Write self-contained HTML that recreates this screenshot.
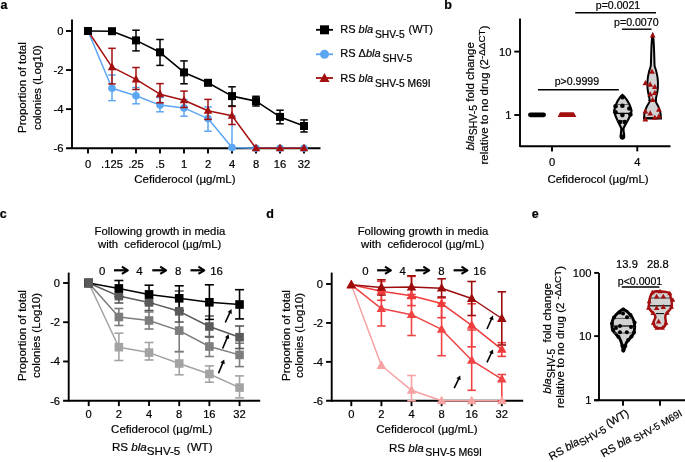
<!DOCTYPE html><html><head><meta charset="utf-8"><style>html,body{margin:0;padding:0;background:#fff;}svg{display:block;will-change:transform;}text{font-family:"Liberation Sans",sans-serif;fill:#000;stroke:#000;stroke-width:0.2px;}</style></head><body>
<svg width="685" height="462" viewBox="0 0 685 462">
<rect width="685" height="462" fill="#fff"/>
<text x="0.60" y="9.40" font-size="12.5" text-anchor="start" font-weight="bold">a</text>
<text x="444.30" y="9.40" font-size="12.5" text-anchor="start" font-weight="bold">b</text>
<text x="-0.20" y="217.50" font-size="12.5" text-anchor="start" font-weight="bold">c</text>
<text x="266.30" y="217.50" font-size="12.5" text-anchor="start" font-weight="bold">d</text>
<text x="531.80" y="217.50" font-size="12.5" text-anchor="start" font-weight="bold">e</text>
<line x1="72.00" y1="19.50" x2="72.00" y2="149.07" stroke="#000" stroke-width="1.9" />
<line x1="66.00" y1="148.20" x2="320.50" y2="148.20" stroke="#000" stroke-width="1.9" />
<line x1="66.00" y1="31.00" x2="72.00" y2="31.00" stroke="#000" stroke-width="1.9" />
<text x="63.50" y="34.90" font-size="11.2" text-anchor="end" >0</text>
<line x1="66.00" y1="70.07" x2="72.00" y2="70.07" stroke="#000" stroke-width="1.9" />
<text x="63.50" y="73.97" font-size="11.2" text-anchor="end" >-2</text>
<line x1="66.00" y1="109.13" x2="72.00" y2="109.13" stroke="#000" stroke-width="1.9" />
<text x="63.50" y="113.03" font-size="11.2" text-anchor="end" >-4</text>
<text x="63.50" y="152.10" font-size="11.2" text-anchor="end" >-6</text>
<line x1="88.00" y1="148.20" x2="88.00" y2="153.60" stroke="#000" stroke-width="1.9" />
<text x="88.00" y="168.00" font-size="11.2" text-anchor="middle" >0</text>
<line x1="112.00" y1="148.20" x2="112.00" y2="153.60" stroke="#000" stroke-width="1.9" />
<text x="112.00" y="168.00" font-size="11.2" text-anchor="middle" >.125</text>
<line x1="136.00" y1="148.20" x2="136.00" y2="153.60" stroke="#000" stroke-width="1.9" />
<text x="136.00" y="168.00" font-size="11.2" text-anchor="middle" >.25</text>
<line x1="160.00" y1="148.20" x2="160.00" y2="153.60" stroke="#000" stroke-width="1.9" />
<text x="160.00" y="168.00" font-size="11.2" text-anchor="middle" >.5</text>
<line x1="184.00" y1="148.20" x2="184.00" y2="153.60" stroke="#000" stroke-width="1.9" />
<text x="184.00" y="168.00" font-size="11.2" text-anchor="middle" >1</text>
<line x1="208.00" y1="148.20" x2="208.00" y2="153.60" stroke="#000" stroke-width="1.9" />
<text x="208.00" y="168.00" font-size="11.2" text-anchor="middle" >2</text>
<line x1="232.00" y1="148.20" x2="232.00" y2="153.60" stroke="#000" stroke-width="1.9" />
<text x="232.00" y="168.00" font-size="11.2" text-anchor="middle" >4</text>
<line x1="256.00" y1="148.20" x2="256.00" y2="153.60" stroke="#000" stroke-width="1.9" />
<text x="256.00" y="168.00" font-size="11.2" text-anchor="middle" >8</text>
<line x1="280.00" y1="148.20" x2="280.00" y2="153.60" stroke="#000" stroke-width="1.9" />
<text x="280.00" y="168.00" font-size="11.2" text-anchor="middle" >16</text>
<line x1="304.00" y1="148.20" x2="304.00" y2="153.60" stroke="#000" stroke-width="1.9" />
<text x="304.00" y="168.00" font-size="11.2" text-anchor="middle" >32</text>
<text x="134.30" y="182.90" font-size="11.5" text-anchor="start" >Cefiderocol (µg/mL)</text>
<text transform="translate(26.0,87.6) rotate(-90)" font-size="11.5" text-anchor="middle">Proportion of total</text>
<text transform="translate(40.8,87.6) rotate(-90)" font-size="11.5" text-anchor="middle">colonies (Log10)</text>
<polyline points="88.00,31.00 112.00,88.30 136.00,95.80 160.00,105.10 184.00,107.90 208.00,118.60 232.00,147.60 256.00,148.20 280.00,148.20 304.00,148.20" fill="none" stroke="#5ba6f2" stroke-width="1.5" stroke-linejoin="round" />
<line x1="112.00" y1="75.00" x2="112.00" y2="100.60" stroke="#5ba6f2" stroke-width="1.5" />
<line x1="108.25" y1="75.00" x2="115.75" y2="75.00" stroke="#5ba6f2" stroke-width="1.5" />
<line x1="108.25" y1="100.60" x2="115.75" y2="100.60" stroke="#5ba6f2" stroke-width="1.5" />
<line x1="136.00" y1="87.50" x2="136.00" y2="103.80" stroke="#5ba6f2" stroke-width="1.5" />
<line x1="132.25" y1="87.50" x2="139.75" y2="87.50" stroke="#5ba6f2" stroke-width="1.5" />
<line x1="132.25" y1="103.80" x2="139.75" y2="103.80" stroke="#5ba6f2" stroke-width="1.5" />
<line x1="160.00" y1="97.50" x2="160.00" y2="111.80" stroke="#5ba6f2" stroke-width="1.5" />
<line x1="156.25" y1="97.50" x2="163.75" y2="97.50" stroke="#5ba6f2" stroke-width="1.5" />
<line x1="156.25" y1="111.80" x2="163.75" y2="111.80" stroke="#5ba6f2" stroke-width="1.5" />
<line x1="184.00" y1="99.70" x2="184.00" y2="116.20" stroke="#5ba6f2" stroke-width="1.5" />
<line x1="180.25" y1="99.70" x2="187.75" y2="99.70" stroke="#5ba6f2" stroke-width="1.5" />
<line x1="180.25" y1="116.20" x2="187.75" y2="116.20" stroke="#5ba6f2" stroke-width="1.5" />
<line x1="208.00" y1="107.00" x2="208.00" y2="131.20" stroke="#5ba6f2" stroke-width="1.5" />
<line x1="204.25" y1="107.00" x2="211.75" y2="107.00" stroke="#5ba6f2" stroke-width="1.5" />
<line x1="204.25" y1="131.20" x2="211.75" y2="131.20" stroke="#5ba6f2" stroke-width="1.5" />
<line x1="232.00" y1="115.80" x2="232.00" y2="148.20" stroke="#5ba6f2" stroke-width="1.5" />
<line x1="228.25" y1="115.80" x2="235.75" y2="115.80" stroke="#5ba6f2" stroke-width="1.5" />
<line x1="228.25" y1="148.20" x2="235.75" y2="148.20" stroke="#5ba6f2" stroke-width="1.5" />
<circle cx="88.00" cy="31.00" r="3.8" fill="#5ba6f2"/>
<circle cx="112.00" cy="88.30" r="3.8" fill="#5ba6f2"/>
<circle cx="136.00" cy="95.80" r="3.8" fill="#5ba6f2"/>
<circle cx="160.00" cy="105.10" r="3.8" fill="#5ba6f2"/>
<circle cx="184.00" cy="107.90" r="3.8" fill="#5ba6f2"/>
<circle cx="208.00" cy="118.60" r="3.8" fill="#5ba6f2"/>
<circle cx="232.00" cy="147.60" r="3.8" fill="#5ba6f2"/>
<circle cx="256.00" cy="148.20" r="3.8" fill="#5ba6f2"/>
<circle cx="280.00" cy="148.20" r="3.8" fill="#5ba6f2"/>
<circle cx="304.00" cy="148.20" r="3.8" fill="#5ba6f2"/>
<polyline points="88.00,31.00 112.00,67.20 136.00,79.40 160.00,94.20 184.00,100.30 208.00,110.70 232.00,115.80 256.00,148.20 280.00,148.20 304.00,148.20" fill="none" stroke="#a31010" stroke-width="1.5" stroke-linejoin="round" />
<line x1="112.00" y1="48.30" x2="112.00" y2="83.90" stroke="#a31010" stroke-width="1.5" />
<line x1="108.25" y1="48.30" x2="115.75" y2="48.30" stroke="#a31010" stroke-width="1.5" />
<line x1="108.25" y1="83.90" x2="115.75" y2="83.90" stroke="#a31010" stroke-width="1.5" />
<line x1="136.00" y1="67.50" x2="136.00" y2="89.50" stroke="#a31010" stroke-width="1.5" />
<line x1="132.25" y1="67.50" x2="139.75" y2="67.50" stroke="#a31010" stroke-width="1.5" />
<line x1="132.25" y1="89.50" x2="139.75" y2="89.50" stroke="#a31010" stroke-width="1.5" />
<line x1="160.00" y1="83.60" x2="160.00" y2="102.80" stroke="#a31010" stroke-width="1.5" />
<line x1="156.25" y1="83.60" x2="163.75" y2="83.60" stroke="#a31010" stroke-width="1.5" />
<line x1="156.25" y1="102.80" x2="163.75" y2="102.80" stroke="#a31010" stroke-width="1.5" />
<line x1="184.00" y1="91.10" x2="184.00" y2="107.50" stroke="#a31010" stroke-width="1.5" />
<line x1="180.25" y1="91.10" x2="187.75" y2="91.10" stroke="#a31010" stroke-width="1.5" />
<line x1="180.25" y1="107.50" x2="187.75" y2="107.50" stroke="#a31010" stroke-width="1.5" />
<line x1="208.00" y1="99.40" x2="208.00" y2="119.40" stroke="#a31010" stroke-width="1.5" />
<line x1="204.25" y1="99.40" x2="211.75" y2="99.40" stroke="#a31010" stroke-width="1.5" />
<line x1="204.25" y1="119.40" x2="211.75" y2="119.40" stroke="#a31010" stroke-width="1.5" />
<line x1="232.00" y1="106.40" x2="232.00" y2="124.50" stroke="#a31010" stroke-width="1.5" />
<line x1="228.25" y1="106.40" x2="235.75" y2="106.40" stroke="#a31010" stroke-width="1.5" />
<line x1="228.25" y1="124.50" x2="235.75" y2="124.50" stroke="#a31010" stroke-width="1.5" />
<polygon points="88.00,26.41 83.75,34.06 92.25,34.06" fill="#a31010" />
<polygon points="112.00,62.61 107.75,70.26 116.25,70.26" fill="#a31010" />
<polygon points="136.00,74.81 131.75,82.46 140.25,82.46" fill="#a31010" />
<polygon points="160.00,89.61 155.75,97.26 164.25,97.26" fill="#a31010" />
<polygon points="184.00,95.71 179.75,103.36 188.25,103.36" fill="#a31010" />
<polygon points="208.00,106.11 203.75,113.76 212.25,113.76" fill="#a31010" />
<polygon points="232.00,111.21 227.75,118.86 236.25,118.86" fill="#a31010" />
<polygon points="256.00,143.61 251.75,151.26 260.25,151.26" fill="#a31010" />
<polygon points="280.00,143.61 275.75,151.26 284.25,151.26" fill="#a31010" />
<polygon points="304.00,143.61 299.75,151.26 308.25,151.26" fill="#a31010" />
<polyline points="88.00,31.00 112.00,31.20 136.00,40.40 160.00,52.30 184.00,72.40 208.00,82.80 232.00,96.10 256.00,101.10 280.00,116.90 304.00,126.00" fill="none" stroke="#000" stroke-width="1.6" stroke-linejoin="round" />
<line x1="136.00" y1="30.20" x2="136.00" y2="50.90" stroke="#000" stroke-width="1.5" />
<line x1="132.25" y1="30.20" x2="139.75" y2="30.20" stroke="#000" stroke-width="1.5" />
<line x1="132.25" y1="50.90" x2="139.75" y2="50.90" stroke="#000" stroke-width="1.5" />
<line x1="160.00" y1="39.50" x2="160.00" y2="65.40" stroke="#000" stroke-width="1.5" />
<line x1="156.25" y1="39.50" x2="163.75" y2="39.50" stroke="#000" stroke-width="1.5" />
<line x1="156.25" y1="65.40" x2="163.75" y2="65.40" stroke="#000" stroke-width="1.5" />
<line x1="184.00" y1="60.90" x2="184.00" y2="83.80" stroke="#000" stroke-width="1.5" />
<line x1="180.25" y1="60.90" x2="187.75" y2="60.90" stroke="#000" stroke-width="1.5" />
<line x1="180.25" y1="83.80" x2="187.75" y2="83.80" stroke="#000" stroke-width="1.5" />
<line x1="232.00" y1="86.80" x2="232.00" y2="106.00" stroke="#000" stroke-width="1.5" />
<line x1="228.25" y1="86.80" x2="235.75" y2="86.80" stroke="#000" stroke-width="1.5" />
<line x1="228.25" y1="106.00" x2="235.75" y2="106.00" stroke="#000" stroke-width="1.5" />
<line x1="256.00" y1="96.30" x2="256.00" y2="106.00" stroke="#000" stroke-width="1.5" />
<line x1="252.25" y1="96.30" x2="259.75" y2="96.30" stroke="#000" stroke-width="1.5" />
<line x1="252.25" y1="106.00" x2="259.75" y2="106.00" stroke="#000" stroke-width="1.5" />
<line x1="280.00" y1="110.20" x2="280.00" y2="123.80" stroke="#000" stroke-width="1.5" />
<line x1="276.25" y1="110.20" x2="283.75" y2="110.20" stroke="#000" stroke-width="1.5" />
<line x1="276.25" y1="123.80" x2="283.75" y2="123.80" stroke="#000" stroke-width="1.5" />
<line x1="304.00" y1="119.90" x2="304.00" y2="132.00" stroke="#000" stroke-width="1.5" />
<line x1="300.25" y1="119.90" x2="307.75" y2="119.90" stroke="#000" stroke-width="1.5" />
<line x1="300.25" y1="132.00" x2="307.75" y2="132.00" stroke="#000" stroke-width="1.5" />
<rect x="84.00" y="27.00" width="8" height="8" fill="#000"/>
<rect x="108.00" y="27.20" width="8" height="8" fill="#000"/>
<rect x="132.00" y="36.40" width="8" height="8" fill="#000"/>
<rect x="156.00" y="48.30" width="8" height="8" fill="#000"/>
<rect x="180.00" y="68.40" width="8" height="8" fill="#000"/>
<rect x="204.00" y="78.80" width="8" height="8" fill="#000"/>
<rect x="228.00" y="92.10" width="8" height="8" fill="#000"/>
<rect x="252.00" y="97.10" width="8" height="8" fill="#000"/>
<rect x="276.00" y="112.90" width="8" height="8" fill="#000"/>
<rect x="300.00" y="122.00" width="8" height="8" fill="#000"/>
<line x1="316.00" y1="29.80" x2="333.00" y2="29.80" stroke="#000" stroke-width="1.8" />
<rect x="320.00" y="25.30" width="9.0" height="9.0" fill="#000"/>
<line x1="316.00" y1="54.30" x2="333.00" y2="54.30" stroke="#5ba6f2" stroke-width="1.8" />
<circle cx="324.50" cy="54.30" r="4.5" fill="#5ba6f2"/>
<line x1="316.00" y1="78.00" x2="333.00" y2="78.00" stroke="#a31010" stroke-width="1.8" />
<polygon points="324.50,72.89 319.40,82.07 329.60,82.07" fill="#a31010" />
<text x="340.2" y="33" font-size="11">RS <tspan font-style="italic">bla</tspan><tspan x="375.0" y="38.1" font-size="10.3">SHV-5</tspan><tspan x="408.6" y="33">(WT)</tspan></text>
<text x="340.2" y="57.4" font-size="11">RS Δ<tspan font-style="italic">bla</tspan><tspan x="382.5" y="62" font-size="10.3">SHV-5</tspan></text>
<text x="340.2" y="81.8" font-size="11">RS <tspan font-style="italic">bla</tspan><tspan x="375.0" y="86.6" font-size="10.3">SHV-5 M69I</tspan></text>
<line x1="520.00" y1="18.50" x2="520.00" y2="147.07" stroke="#000" stroke-width="1.9" />
<line x1="520.00" y1="146.20" x2="670.50" y2="146.20" stroke="#000" stroke-width="1.9" />
<line x1="514.30" y1="51.60" x2="520.00" y2="51.60" stroke="#000" stroke-width="1.9" />
<text x="511.50" y="55.60" font-size="11.2" text-anchor="end" >10</text>
<line x1="514.30" y1="115.00" x2="520.00" y2="115.00" stroke="#000" stroke-width="1.9" />
<text x="511.50" y="119.00" font-size="11.2" text-anchor="end" >1</text>
<line x1="552.00" y1="146.20" x2="552.00" y2="151.40" stroke="#000" stroke-width="1.9" />
<text x="552.00" y="166.20" font-size="11.2" text-anchor="middle" >0</text>
<line x1="637.30" y1="146.20" x2="637.30" y2="151.40" stroke="#000" stroke-width="1.9" />
<text x="637.30" y="166.20" font-size="11.2" text-anchor="middle" >4</text>
<text x="547.40" y="182.80" font-size="11.5" text-anchor="start" >Cefiderocol (µg/mL)</text>
<text transform="translate(474.2,96.4) rotate(-90)" font-size="11.5" text-anchor="middle" xml:space="preserve"><tspan font-style="italic">bla</tspan><tspan dy="2.8" font-size="10.5">SHV-5</tspan><tspan dy="-2.8"> fold change</tspan></text>
<text transform="translate(488.2,95) rotate(-90)" font-size="11.5" text-anchor="middle">relative to no drug (2<tspan dy="-2.8" font-size="9.9">-ΔΔCT</tspan><tspan dy="2.8">)</tspan></text>
<line x1="538.00" y1="89.70" x2="618.80" y2="89.70" stroke="#000" stroke-width="1.4" />
<text x="576.90" y="84.90" font-size="10.6" text-anchor="middle" >p&gt;0.9999</text>
<line x1="575.20" y1="12.70" x2="656.00" y2="12.70" stroke="#000" stroke-width="1.4" />
<text x="618.00" y="9.40" font-size="10.6" text-anchor="middle" >p=0.0021</text>
<line x1="621.90" y1="29.20" x2="651.50" y2="29.20" stroke="#000" stroke-width="1.4" />
<text x="636.30" y="25.60" font-size="10.6" text-anchor="middle" >p=0.0070</text>
<rect x="528" y="112.4" width="18" height="4.8" rx="2.4" fill="#000"/>
<polygon points="560,112.3 573.8,112.3 576.4,117 557.7,117" fill="#a31010"/>
<path d="M622.4,94.8 C620,96.5 615.5,103 614.2,110.5 C614.5,116.5 619,122.5 621.3,128.3 C621.6,131 620.6,134 620.6,136.5 C620.6,139.2 624.2,139.2 624.2,136.5 C624.2,134 623.2,131 623.5,128.3 C626,122.5 631.2,116.5 631.5,110.5 C630,103 624.8,96.5 622.4,94.8 Z" fill="#d2d2d2" stroke="#000" stroke-width="2.2"/>
<line x1="615.00" y1="113.40" x2="631.00" y2="113.40" stroke="#000" stroke-width="1.3" />
<line x1="617.00" y1="104.50" x2="628.00" y2="104.50" stroke="#555" stroke-width="0.9" />
<line x1="617.50" y1="120.50" x2="627.50" y2="120.50" stroke="#555" stroke-width="0.9" />
<circle cx="622.40" cy="97.30" r="2.3" fill="#000"/>
<circle cx="622.40" cy="105.80" r="2.3" fill="#000"/>
<circle cx="615.60" cy="106.20" r="2.3" fill="#000"/>
<circle cx="629.40" cy="108.50" r="2.3" fill="#000"/>
<circle cx="615.50" cy="112.20" r="2.3" fill="#000"/>
<circle cx="622.40" cy="115.10" r="2.3" fill="#000"/>
<circle cx="630.40" cy="114.50" r="2.3" fill="#000"/>
<circle cx="620.00" cy="122.00" r="2.3" fill="#000"/>
<circle cx="624.70" cy="122.00" r="2.3" fill="#000"/>
<circle cx="622.40" cy="136.80" r="2.3" fill="#000"/>
<path d="M652.7,34.5 C651.2,38 651.2,60 650.8,66 C648.5,72 647,80 647.5,88 C648,95 650.3,98 649.5,102 C646,107 643.8,111 644,118.6 L661,118.6 C661.2,111 659,107 655.9,102 C655.1,98 657.4,95 657.9,88 C658.4,80 656.9,72 654.6,66 C654.2,60 654.2,38 652.7,34.5 Z" fill="#d2d2d2" stroke="#000" stroke-width="2"/>
<line x1="645.00" y1="117.80" x2="660.00" y2="117.80" stroke="#000" stroke-width="1.2" />
<line x1="648.50" y1="100.50" x2="657.00" y2="100.50" stroke="#000" stroke-width="1.0" />
<polygon points="652.70,32.37 649.80,37.59 655.60,37.59" fill="#a31010" />
<polygon points="652.00,68.57 649.10,73.79 654.90,73.79" fill="#a31010" />
<polygon points="645.40,80.07 642.50,85.29 648.30,85.29" fill="#a31010" />
<polygon points="650.20,81.57 647.30,86.79 653.10,86.79" fill="#a31010" />
<polygon points="654.80,83.67 651.90,88.89 657.70,88.89" fill="#a31010" />
<polygon points="650.20,91.17 647.30,96.39 653.10,96.39" fill="#a31010" />
<polygon points="654.80,89.87 651.90,95.09 657.70,95.09" fill="#a31010" />
<polygon points="652.70,96.77 649.80,101.99 655.60,101.99" fill="#a31010" />
<polygon points="645.40,108.17 642.50,113.39 648.30,113.39" fill="#a31010" />
<polygon points="658.90,106.57 656.00,111.79 661.80,111.79" fill="#a31010" />
<polygon points="650.20,110.27 647.30,115.49 653.10,115.49" fill="#a31010" />
<polygon points="645.40,116.17 642.50,121.39 648.30,121.39" fill="#a31010" />
<polygon points="654.80,114.47 651.90,119.69 657.70,119.69" fill="#a31010" />
<polygon points="658.90,113.37 656.00,118.59 661.80,118.59" fill="#a31010" />
<text x="94.60" y="234.50" font-size="11.3" text-anchor="start" >Following growth in media</text>
<text x="98.00" y="248.3" font-size="11.3" xml:space="preserve">with  cefiderocol (µg/mL)</text>
<text x="102.20" y="274.70" font-size="11.4" text-anchor="middle" >0</text>
<text x="139.50" y="274.70" font-size="11.4" text-anchor="middle" >4</text>
<text x="178.20" y="274.70" font-size="11.4" text-anchor="middle" >8</text>
<text x="216.60" y="274.70" font-size="11.4" text-anchor="middle" >16</text>
<line x1="114.00" y1="270.30" x2="126.50" y2="270.30" stroke="#000" stroke-width="2.2" />
<polyline points="121.90,266.70 127.80,270.30 121.90,273.90" fill="none" stroke="#000" stroke-width="2.1" stroke-linejoin="round" stroke-linejoin="miter" stroke-linecap="butt"/>
<line x1="152.30" y1="270.30" x2="164.80" y2="270.30" stroke="#000" stroke-width="2.2" />
<polyline points="160.20,266.70 166.10,270.30 160.20,273.90" fill="none" stroke="#000" stroke-width="2.1" stroke-linejoin="round" stroke-linejoin="miter" stroke-linecap="butt"/>
<line x1="190.50" y1="270.30" x2="203.00" y2="270.30" stroke="#000" stroke-width="2.2" />
<polyline points="198.40,266.70 204.30,270.30 198.40,273.90" fill="none" stroke="#000" stroke-width="2.1" stroke-linejoin="round" stroke-linejoin="miter" stroke-linecap="butt"/>
<text x="357.70" y="234.50" font-size="11.3" text-anchor="start" >Following growth in media</text>
<text x="361.10" y="248.3" font-size="11.3" xml:space="preserve">with  cefiderocol (µg/mL)</text>
<text x="365.30" y="274.70" font-size="11.4" text-anchor="middle" >0</text>
<text x="402.60" y="274.70" font-size="11.4" text-anchor="middle" >4</text>
<text x="441.30" y="274.70" font-size="11.4" text-anchor="middle" >8</text>
<text x="479.70" y="274.70" font-size="11.4" text-anchor="middle" >16</text>
<line x1="377.10" y1="270.30" x2="389.60" y2="270.30" stroke="#000" stroke-width="2.2" />
<polyline points="385.00,266.70 390.90,270.30 385.00,273.90" fill="none" stroke="#000" stroke-width="2.1" stroke-linejoin="round" stroke-linejoin="miter" stroke-linecap="butt"/>
<line x1="415.40" y1="270.30" x2="427.90" y2="270.30" stroke="#000" stroke-width="2.2" />
<polyline points="423.30,266.70 429.20,270.30 423.30,273.90" fill="none" stroke="#000" stroke-width="2.1" stroke-linejoin="round" stroke-linejoin="miter" stroke-linecap="butt"/>
<line x1="453.60" y1="270.30" x2="466.10" y2="270.30" stroke="#000" stroke-width="2.2" />
<polyline points="461.50,266.70 467.40,270.30 461.50,273.90" fill="none" stroke="#000" stroke-width="2.1" stroke-linejoin="round" stroke-linejoin="miter" stroke-linecap="butt"/>
<line x1="68.70" y1="272.60" x2="68.70" y2="401.57" stroke="#000" stroke-width="1.9" />
<line x1="63.10" y1="400.70" x2="260.20" y2="400.70" stroke="#000" stroke-width="1.9" />
<line x1="63.10" y1="283.00" x2="68.70" y2="283.00" stroke="#000" stroke-width="1.9" />
<text x="60.10" y="286.90" font-size="11.2" text-anchor="end" >0</text>
<line x1="63.10" y1="322.23" x2="68.70" y2="322.23" stroke="#000" stroke-width="1.9" />
<text x="60.10" y="326.13" font-size="11.2" text-anchor="end" >-2</text>
<line x1="63.10" y1="361.47" x2="68.70" y2="361.47" stroke="#000" stroke-width="1.9" />
<text x="60.10" y="365.37" font-size="11.2" text-anchor="end" >-4</text>
<text x="60.10" y="404.60" font-size="11.2" text-anchor="end" >-6</text>
<line x1="88.70" y1="400.70" x2="88.70" y2="406.10" stroke="#000" stroke-width="1.9" />
<text x="88.70" y="418.20" font-size="11.2" text-anchor="middle" >0</text>
<line x1="118.87" y1="400.70" x2="118.87" y2="406.10" stroke="#000" stroke-width="1.9" />
<text x="118.87" y="418.20" font-size="11.2" text-anchor="middle" >2</text>
<line x1="149.04" y1="400.70" x2="149.04" y2="406.10" stroke="#000" stroke-width="1.9" />
<text x="149.04" y="418.20" font-size="11.2" text-anchor="middle" >4</text>
<line x1="179.21" y1="400.70" x2="179.21" y2="406.10" stroke="#000" stroke-width="1.9" />
<text x="179.21" y="418.20" font-size="11.2" text-anchor="middle" >8</text>
<line x1="209.38" y1="400.70" x2="209.38" y2="406.10" stroke="#000" stroke-width="1.9" />
<text x="209.38" y="418.20" font-size="11.2" text-anchor="middle" >16</text>
<line x1="239.55" y1="400.70" x2="239.55" y2="406.10" stroke="#000" stroke-width="1.9" />
<text x="239.55" y="418.20" font-size="11.2" text-anchor="middle" >32</text>
<text x="111.10" y="432.60" font-size="11.5" text-anchor="start" >Cefiderocol (µg/mL)</text>
<text transform="translate(25.50,335.5) rotate(-90)" font-size="11.5" text-anchor="middle">Proportion of total</text>
<text transform="translate(39.50,335.5) rotate(-90)" font-size="11.5" text-anchor="middle">colonies (Log10)</text>
<text x="112" y="451" font-size="11.6" xml:space="preserve">RS <tspan font-style="italic">bla</tspan><tspan y="454.6">SHV-5</tspan><tspan y="451">  (WT)</tspan></text>
<polyline points="88.70,283.00 118.87,347.20 149.04,352.60 179.21,363.50 209.38,374.00 239.55,387.60" fill="none" stroke="#a3a3a3" stroke-width="1.5" stroke-linejoin="round" />
<polyline points="88.70,283.00 118.87,317.00 149.04,320.50 179.21,330.60 209.38,346.50 239.55,354.90" fill="none" stroke="#7d7d7d" stroke-width="1.5" stroke-linejoin="round" />
<polyline points="88.70,283.00 118.87,296.10 149.04,302.40 179.21,311.30 209.38,326.50 239.55,337.20" fill="none" stroke="#5a5a5a" stroke-width="1.5" stroke-linejoin="round" />
<polyline points="88.70,283.00 118.87,288.40 149.04,294.40 179.21,298.30 209.38,302.30 239.55,304.50" fill="none" stroke="#000" stroke-width="1.5" stroke-linejoin="round" />
<line x1="118.87" y1="333.20" x2="118.87" y2="360.50" stroke="#a3a3a3" stroke-width="1.6" />
<line x1="114.37" y1="333.20" x2="123.37" y2="333.20" stroke="#a3a3a3" stroke-width="1.6" />
<line x1="114.37" y1="360.50" x2="123.37" y2="360.50" stroke="#a3a3a3" stroke-width="1.6" />
<line x1="149.04" y1="342.50" x2="149.04" y2="360.00" stroke="#a3a3a3" stroke-width="1.6" />
<line x1="144.54" y1="342.50" x2="153.54" y2="342.50" stroke="#a3a3a3" stroke-width="1.6" />
<line x1="144.54" y1="360.00" x2="153.54" y2="360.00" stroke="#a3a3a3" stroke-width="1.6" />
<line x1="179.21" y1="351.90" x2="179.21" y2="374.80" stroke="#a3a3a3" stroke-width="1.6" />
<line x1="174.71" y1="351.90" x2="183.71" y2="351.90" stroke="#a3a3a3" stroke-width="1.6" />
<line x1="174.71" y1="374.80" x2="183.71" y2="374.80" stroke="#a3a3a3" stroke-width="1.6" />
<line x1="209.38" y1="365.90" x2="209.38" y2="382.20" stroke="#a3a3a3" stroke-width="1.6" />
<line x1="204.88" y1="365.90" x2="213.88" y2="365.90" stroke="#a3a3a3" stroke-width="1.6" />
<line x1="204.88" y1="382.20" x2="213.88" y2="382.20" stroke="#a3a3a3" stroke-width="1.6" />
<line x1="239.55" y1="375.90" x2="239.55" y2="397.90" stroke="#a3a3a3" stroke-width="1.6" />
<line x1="235.05" y1="375.90" x2="244.05" y2="375.90" stroke="#a3a3a3" stroke-width="1.6" />
<line x1="235.05" y1="397.90" x2="244.05" y2="397.90" stroke="#a3a3a3" stroke-width="1.6" />
<line x1="118.87" y1="308.50" x2="118.87" y2="325.50" stroke="#7d7d7d" stroke-width="1.6" />
<line x1="114.37" y1="308.50" x2="123.37" y2="308.50" stroke="#7d7d7d" stroke-width="1.6" />
<line x1="114.37" y1="325.50" x2="123.37" y2="325.50" stroke="#7d7d7d" stroke-width="1.6" />
<line x1="149.04" y1="312.00" x2="149.04" y2="329.00" stroke="#7d7d7d" stroke-width="1.6" />
<line x1="144.54" y1="312.00" x2="153.54" y2="312.00" stroke="#7d7d7d" stroke-width="1.6" />
<line x1="144.54" y1="329.00" x2="153.54" y2="329.00" stroke="#7d7d7d" stroke-width="1.6" />
<line x1="179.21" y1="309.70" x2="179.21" y2="351.50" stroke="#7d7d7d" stroke-width="1.6" />
<line x1="174.71" y1="309.70" x2="183.71" y2="309.70" stroke="#7d7d7d" stroke-width="1.6" />
<line x1="174.71" y1="351.50" x2="183.71" y2="351.50" stroke="#7d7d7d" stroke-width="1.6" />
<line x1="209.38" y1="336.50" x2="209.38" y2="356.50" stroke="#7d7d7d" stroke-width="1.6" />
<line x1="204.88" y1="336.50" x2="213.88" y2="336.50" stroke="#7d7d7d" stroke-width="1.6" />
<line x1="204.88" y1="356.50" x2="213.88" y2="356.50" stroke="#7d7d7d" stroke-width="1.6" />
<line x1="239.55" y1="343.20" x2="239.55" y2="366.60" stroke="#7d7d7d" stroke-width="1.6" />
<line x1="235.05" y1="343.20" x2="244.05" y2="343.20" stroke="#7d7d7d" stroke-width="1.6" />
<line x1="235.05" y1="366.60" x2="244.05" y2="366.60" stroke="#7d7d7d" stroke-width="1.6" />
<line x1="118.87" y1="289.00" x2="118.87" y2="303.00" stroke="#5a5a5a" stroke-width="1.6" />
<line x1="114.37" y1="289.00" x2="123.37" y2="289.00" stroke="#5a5a5a" stroke-width="1.6" />
<line x1="114.37" y1="303.00" x2="123.37" y2="303.00" stroke="#5a5a5a" stroke-width="1.6" />
<line x1="149.04" y1="294.50" x2="149.04" y2="310.50" stroke="#5a5a5a" stroke-width="1.6" />
<line x1="144.54" y1="294.50" x2="153.54" y2="294.50" stroke="#5a5a5a" stroke-width="1.6" />
<line x1="144.54" y1="310.50" x2="153.54" y2="310.50" stroke="#5a5a5a" stroke-width="1.6" />
<line x1="179.21" y1="291.00" x2="179.21" y2="322.00" stroke="#5a5a5a" stroke-width="1.6" />
<line x1="174.71" y1="291.00" x2="183.71" y2="291.00" stroke="#5a5a5a" stroke-width="1.6" />
<line x1="174.71" y1="322.00" x2="183.71" y2="322.00" stroke="#5a5a5a" stroke-width="1.6" />
<line x1="209.38" y1="316.00" x2="209.38" y2="337.00" stroke="#5a5a5a" stroke-width="1.6" />
<line x1="204.88" y1="316.00" x2="213.88" y2="316.00" stroke="#5a5a5a" stroke-width="1.6" />
<line x1="204.88" y1="337.00" x2="213.88" y2="337.00" stroke="#5a5a5a" stroke-width="1.6" />
<line x1="239.55" y1="326.00" x2="239.55" y2="348.50" stroke="#5a5a5a" stroke-width="1.6" />
<line x1="235.05" y1="326.00" x2="244.05" y2="326.00" stroke="#5a5a5a" stroke-width="1.6" />
<line x1="235.05" y1="348.50" x2="244.05" y2="348.50" stroke="#5a5a5a" stroke-width="1.6" />
<line x1="118.87" y1="280.50" x2="118.87" y2="296.50" stroke="#000" stroke-width="1.6" />
<line x1="114.37" y1="280.50" x2="123.37" y2="280.50" stroke="#000" stroke-width="1.6" />
<line x1="114.37" y1="296.50" x2="123.37" y2="296.50" stroke="#000" stroke-width="1.6" />
<line x1="149.04" y1="285.20" x2="149.04" y2="303.50" stroke="#000" stroke-width="1.6" />
<line x1="144.54" y1="285.20" x2="153.54" y2="285.20" stroke="#000" stroke-width="1.6" />
<line x1="144.54" y1="303.50" x2="153.54" y2="303.50" stroke="#000" stroke-width="1.6" />
<line x1="179.21" y1="285.80" x2="179.21" y2="310.80" stroke="#000" stroke-width="1.6" />
<line x1="174.71" y1="285.80" x2="183.71" y2="285.80" stroke="#000" stroke-width="1.6" />
<line x1="174.71" y1="310.80" x2="183.71" y2="310.80" stroke="#000" stroke-width="1.6" />
<line x1="209.38" y1="284.80" x2="209.38" y2="319.40" stroke="#000" stroke-width="1.6" />
<line x1="204.88" y1="284.80" x2="213.88" y2="284.80" stroke="#000" stroke-width="1.6" />
<line x1="204.88" y1="319.40" x2="213.88" y2="319.40" stroke="#000" stroke-width="1.6" />
<line x1="239.55" y1="289.70" x2="239.55" y2="318.90" stroke="#000" stroke-width="1.6" />
<line x1="235.05" y1="289.70" x2="244.05" y2="289.70" stroke="#000" stroke-width="1.6" />
<line x1="235.05" y1="318.90" x2="244.05" y2="318.90" stroke="#000" stroke-width="1.6" />
<rect x="84.40" y="278.70" width="8.6" height="8.6" fill="#a3a3a3"/>
<rect x="114.57" y="342.90" width="8.6" height="8.6" fill="#a3a3a3"/>
<rect x="144.74" y="348.30" width="8.6" height="8.6" fill="#a3a3a3"/>
<rect x="174.91" y="359.20" width="8.6" height="8.6" fill="#a3a3a3"/>
<rect x="205.08" y="369.70" width="8.6" height="8.6" fill="#a3a3a3"/>
<rect x="235.25" y="383.30" width="8.6" height="8.6" fill="#a3a3a3"/>
<rect x="84.40" y="278.70" width="8.6" height="8.6" fill="#7d7d7d"/>
<rect x="114.57" y="312.70" width="8.6" height="8.6" fill="#7d7d7d"/>
<rect x="144.74" y="316.20" width="8.6" height="8.6" fill="#7d7d7d"/>
<rect x="174.91" y="326.30" width="8.6" height="8.6" fill="#7d7d7d"/>
<rect x="205.08" y="342.20" width="8.6" height="8.6" fill="#7d7d7d"/>
<rect x="235.25" y="350.60" width="8.6" height="8.6" fill="#7d7d7d"/>
<rect x="84.40" y="278.70" width="8.6" height="8.6" fill="#5a5a5a"/>
<rect x="114.57" y="291.80" width="8.6" height="8.6" fill="#5a5a5a"/>
<rect x="144.74" y="298.10" width="8.6" height="8.6" fill="#5a5a5a"/>
<rect x="174.91" y="307.00" width="8.6" height="8.6" fill="#5a5a5a"/>
<rect x="205.08" y="322.20" width="8.6" height="8.6" fill="#5a5a5a"/>
<rect x="235.25" y="332.90" width="8.6" height="8.6" fill="#5a5a5a"/>
<rect x="84.40" y="278.70" width="8.6" height="8.6" fill="#000"/>
<rect x="114.57" y="284.10" width="8.6" height="8.6" fill="#000"/>
<rect x="144.74" y="290.10" width="8.6" height="8.6" fill="#000"/>
<rect x="174.91" y="294.00" width="8.6" height="8.6" fill="#000"/>
<rect x="205.08" y="298.00" width="8.6" height="8.6" fill="#000"/>
<rect x="235.25" y="300.20" width="8.6" height="8.6" fill="#000"/>
<rect x="84.40" y="278.70" width="8.6" height="8.6" fill="#5a5a5a"/>
<line x1="225.30" y1="322.50" x2="229.95" y2="312.46" stroke="#000" stroke-width="1.6" />
<polygon points="231.50,309.10 231.82,313.88 227.65,311.95" fill="#000"/>
<line x1="222.60" y1="348.50" x2="227.25" y2="337.60" stroke="#000" stroke-width="1.6" />
<polygon points="228.70,334.20 229.17,338.97 224.94,337.16" fill="#000"/>
<line x1="218.50" y1="373.20" x2="222.79" y2="362.82" stroke="#000" stroke-width="1.6" />
<polygon points="224.20,359.40 224.72,364.16 220.47,362.40" fill="#000"/>
<line x1="331.70" y1="272.60" x2="331.70" y2="401.68" stroke="#000" stroke-width="1.9" />
<line x1="326.10" y1="400.80" x2="523.20" y2="400.80" stroke="#000" stroke-width="1.9" />
<line x1="326.10" y1="284.00" x2="331.70" y2="284.00" stroke="#000" stroke-width="1.9" />
<text x="323.10" y="287.90" font-size="11.2" text-anchor="end" >0</text>
<line x1="326.10" y1="322.93" x2="331.70" y2="322.93" stroke="#000" stroke-width="1.9" />
<text x="323.10" y="326.83" font-size="11.2" text-anchor="end" >-2</text>
<line x1="326.10" y1="361.87" x2="331.70" y2="361.87" stroke="#000" stroke-width="1.9" />
<text x="323.10" y="365.77" font-size="11.2" text-anchor="end" >-4</text>
<text x="323.10" y="404.70" font-size="11.2" text-anchor="end" >-6</text>
<line x1="351.30" y1="400.80" x2="351.30" y2="406.20" stroke="#000" stroke-width="1.9" />
<text x="351.30" y="418.20" font-size="11.2" text-anchor="middle" >0</text>
<line x1="381.40" y1="400.80" x2="381.40" y2="406.20" stroke="#000" stroke-width="1.9" />
<text x="381.40" y="418.20" font-size="11.2" text-anchor="middle" >2</text>
<line x1="411.50" y1="400.80" x2="411.50" y2="406.20" stroke="#000" stroke-width="1.9" />
<text x="411.50" y="418.20" font-size="11.2" text-anchor="middle" >4</text>
<line x1="441.60" y1="400.80" x2="441.60" y2="406.20" stroke="#000" stroke-width="1.9" />
<text x="441.60" y="418.20" font-size="11.2" text-anchor="middle" >8</text>
<line x1="471.70" y1="400.80" x2="471.70" y2="406.20" stroke="#000" stroke-width="1.9" />
<text x="471.70" y="418.20" font-size="11.2" text-anchor="middle" >16</text>
<line x1="501.80" y1="400.80" x2="501.80" y2="406.20" stroke="#000" stroke-width="1.9" />
<text x="501.80" y="418.20" font-size="11.2" text-anchor="middle" >32</text>
<text x="376.30" y="432.60" font-size="11.5" text-anchor="start" >Cefiderocol (µg/mL)</text>
<text transform="translate(289.50,335.5) rotate(-90)" font-size="11.5" text-anchor="middle">Proportion of total</text>
<text transform="translate(303.10,335.5) rotate(-90)" font-size="11.5" text-anchor="middle">colonies (Log10)</text>
<text x="389" y="452.2" font-size="11.6" xml:space="preserve">RS <tspan font-style="italic">bla</tspan><tspan x="425.3" y="455.8" font-size="10.5">SHV-5 M69I</tspan></text>
<polyline points="351.30,284.80 381.40,365.50 411.50,390.30 441.60,400.80 471.70,400.80 501.80,400.80" fill="none" stroke="#f6a2a2" stroke-width="1.5" stroke-linejoin="round" />
<polyline points="351.30,284.80 381.40,308.60 411.50,314.70 441.60,329.40 471.70,360.30 501.80,379.10" fill="none" stroke="#f04444" stroke-width="1.5" stroke-linejoin="round" />
<polyline points="351.30,284.80 381.40,291.20 411.50,295.80 441.60,303.60 471.70,325.30 501.80,349.40" fill="none" stroke="#ef3b3b" stroke-width="1.5" stroke-linejoin="round" />
<polyline points="351.30,284.80 381.40,287.40 411.50,287.00 441.60,288.20 471.70,298.50 501.80,318.50" fill="none" stroke="#9c0c0c" stroke-width="1.5" stroke-linejoin="round" />
<line x1="411.50" y1="375.50" x2="411.50" y2="400.80" stroke="#f6a2a2" stroke-width="1.6" />
<line x1="407.25" y1="375.50" x2="415.75" y2="375.50" stroke="#f6a2a2" stroke-width="1.6" />
<line x1="407.25" y1="400.80" x2="415.75" y2="400.80" stroke="#f6a2a2" stroke-width="1.6" />
<line x1="381.40" y1="291.00" x2="381.40" y2="326.00" stroke="#f04444" stroke-width="1.6" />
<line x1="377.15" y1="291.00" x2="385.65" y2="291.00" stroke="#f04444" stroke-width="1.6" />
<line x1="377.15" y1="326.00" x2="385.65" y2="326.00" stroke="#f04444" stroke-width="1.6" />
<line x1="411.50" y1="294.50" x2="411.50" y2="335.50" stroke="#f04444" stroke-width="1.6" />
<line x1="407.25" y1="294.50" x2="415.75" y2="294.50" stroke="#f04444" stroke-width="1.6" />
<line x1="407.25" y1="335.50" x2="415.75" y2="335.50" stroke="#f04444" stroke-width="1.6" />
<line x1="441.60" y1="303.00" x2="441.60" y2="355.70" stroke="#f04444" stroke-width="1.6" />
<line x1="437.35" y1="303.00" x2="445.85" y2="303.00" stroke="#f04444" stroke-width="1.6" />
<line x1="437.35" y1="355.70" x2="445.85" y2="355.70" stroke="#f04444" stroke-width="1.6" />
<line x1="471.70" y1="330.00" x2="471.70" y2="390.30" stroke="#f04444" stroke-width="1.6" />
<line x1="467.45" y1="330.00" x2="475.95" y2="330.00" stroke="#f04444" stroke-width="1.6" />
<line x1="467.45" y1="390.30" x2="475.95" y2="390.30" stroke="#f04444" stroke-width="1.6" />
<line x1="501.80" y1="374.50" x2="501.80" y2="400.80" stroke="#f04444" stroke-width="1.6" />
<line x1="497.55" y1="374.50" x2="506.05" y2="374.50" stroke="#f04444" stroke-width="1.6" />
<line x1="497.55" y1="400.80" x2="506.05" y2="400.80" stroke="#f04444" stroke-width="1.6" />
<line x1="381.40" y1="281.40" x2="381.40" y2="300.30" stroke="#ef3b3b" stroke-width="1.6" />
<line x1="377.15" y1="281.40" x2="385.65" y2="281.40" stroke="#ef3b3b" stroke-width="1.6" />
<line x1="377.15" y1="300.30" x2="385.65" y2="300.30" stroke="#ef3b3b" stroke-width="1.6" />
<line x1="411.50" y1="276.40" x2="411.50" y2="305.60" stroke="#ef3b3b" stroke-width="1.6" />
<line x1="407.25" y1="276.40" x2="415.75" y2="276.40" stroke="#ef3b3b" stroke-width="1.6" />
<line x1="407.25" y1="305.60" x2="415.75" y2="305.60" stroke="#ef3b3b" stroke-width="1.6" />
<line x1="441.60" y1="298.00" x2="441.60" y2="317.70" stroke="#ef3b3b" stroke-width="1.6" />
<line x1="437.35" y1="298.00" x2="445.85" y2="298.00" stroke="#ef3b3b" stroke-width="1.6" />
<line x1="437.35" y1="317.70" x2="445.85" y2="317.70" stroke="#ef3b3b" stroke-width="1.6" />
<line x1="471.70" y1="303.80" x2="471.70" y2="346.80" stroke="#ef3b3b" stroke-width="1.6" />
<line x1="467.45" y1="303.80" x2="475.95" y2="303.80" stroke="#ef3b3b" stroke-width="1.6" />
<line x1="467.45" y1="346.80" x2="475.95" y2="346.80" stroke="#ef3b3b" stroke-width="1.6" />
<line x1="501.80" y1="342.70" x2="501.80" y2="356.40" stroke="#ef3b3b" stroke-width="1.6" />
<line x1="497.55" y1="342.70" x2="506.05" y2="342.70" stroke="#ef3b3b" stroke-width="1.6" />
<line x1="497.55" y1="356.40" x2="506.05" y2="356.40" stroke="#ef3b3b" stroke-width="1.6" />
<line x1="381.40" y1="279.80" x2="381.40" y2="295.00" stroke="#9c0c0c" stroke-width="1.6" />
<line x1="377.15" y1="279.80" x2="385.65" y2="279.80" stroke="#9c0c0c" stroke-width="1.6" />
<line x1="377.15" y1="295.00" x2="385.65" y2="295.00" stroke="#9c0c0c" stroke-width="1.6" />
<line x1="411.50" y1="275.80" x2="411.50" y2="298.00" stroke="#9c0c0c" stroke-width="1.6" />
<line x1="407.25" y1="275.80" x2="415.75" y2="275.80" stroke="#9c0c0c" stroke-width="1.6" />
<line x1="407.25" y1="298.00" x2="415.75" y2="298.00" stroke="#9c0c0c" stroke-width="1.6" />
<line x1="441.60" y1="278.80" x2="441.60" y2="297.00" stroke="#9c0c0c" stroke-width="1.6" />
<line x1="437.35" y1="278.80" x2="445.85" y2="278.80" stroke="#9c0c0c" stroke-width="1.6" />
<line x1="437.35" y1="297.00" x2="445.85" y2="297.00" stroke="#9c0c0c" stroke-width="1.6" />
<line x1="471.70" y1="281.50" x2="471.70" y2="315.50" stroke="#9c0c0c" stroke-width="1.6" />
<line x1="467.45" y1="281.50" x2="475.95" y2="281.50" stroke="#9c0c0c" stroke-width="1.6" />
<line x1="467.45" y1="315.50" x2="475.95" y2="315.50" stroke="#9c0c0c" stroke-width="1.6" />
<line x1="501.80" y1="291.80" x2="501.80" y2="345.00" stroke="#9c0c0c" stroke-width="1.6" />
<line x1="497.55" y1="291.80" x2="506.05" y2="291.80" stroke="#9c0c0c" stroke-width="1.6" />
<line x1="497.55" y1="345.00" x2="506.05" y2="345.00" stroke="#9c0c0c" stroke-width="1.6" />
<polygon points="351.30,279.67 346.55,288.22 356.05,288.22" fill="#f6a2a2" />
<polygon points="381.40,360.37 376.65,368.92 386.15,368.92" fill="#f6a2a2" />
<polygon points="411.50,385.17 406.75,393.72 416.25,393.72" fill="#f6a2a2" />
<polygon points="441.60,395.67 436.85,404.22 446.35,404.22" fill="#f6a2a2" />
<polygon points="471.70,395.67 466.95,404.22 476.45,404.22" fill="#f6a2a2" />
<polygon points="501.80,395.67 497.05,404.22 506.55,404.22" fill="#f6a2a2" />
<polygon points="351.30,279.67 346.55,288.22 356.05,288.22" fill="#f04444" />
<polygon points="381.40,303.47 376.65,312.02 386.15,312.02" fill="#f04444" />
<polygon points="411.50,309.57 406.75,318.12 416.25,318.12" fill="#f04444" />
<polygon points="441.60,324.27 436.85,332.82 446.35,332.82" fill="#f04444" />
<polygon points="471.70,355.17 466.95,363.72 476.45,363.72" fill="#f04444" />
<polygon points="501.80,373.97 497.05,382.52 506.55,382.52" fill="#f04444" />
<polygon points="351.30,279.67 346.55,288.22 356.05,288.22" fill="#ef3b3b" />
<polygon points="381.40,286.07 376.65,294.62 386.15,294.62" fill="#ef3b3b" />
<polygon points="411.50,290.67 406.75,299.22 416.25,299.22" fill="#ef3b3b" />
<polygon points="441.60,298.47 436.85,307.02 446.35,307.02" fill="#ef3b3b" />
<polygon points="471.70,320.17 466.95,328.72 476.45,328.72" fill="#ef3b3b" />
<polygon points="501.80,344.27 497.05,352.82 506.55,352.82" fill="#ef3b3b" />
<polygon points="351.30,279.67 346.55,288.22 356.05,288.22" fill="#9c0c0c" />
<polygon points="381.40,282.27 376.65,290.82 386.15,290.82" fill="#9c0c0c" />
<polygon points="411.50,281.87 406.75,290.42 416.25,290.42" fill="#9c0c0c" />
<polygon points="441.60,283.07 436.85,291.62 446.35,291.62" fill="#9c0c0c" />
<polygon points="471.70,293.37 466.95,301.92 476.45,301.92" fill="#9c0c0c" />
<polygon points="501.80,313.37 497.05,321.92 506.55,321.92" fill="#9c0c0c" />
<line x1="487.00" y1="329.00" x2="491.50" y2="318.88" stroke="#000" stroke-width="1.6" />
<polygon points="493.00,315.50 493.40,320.27 489.19,318.40" fill="#000"/>
<line x1="487.00" y1="362.40" x2="491.45" y2="352.76" stroke="#000" stroke-width="1.6" />
<polygon points="493.00,349.40 493.33,354.18 489.15,352.25" fill="#000"/>
<line x1="454.20" y1="388.20" x2="458.70" y2="378.84" stroke="#000" stroke-width="1.6" />
<polygon points="460.30,375.50 460.55,380.28 456.41,378.29" fill="#000"/>
<line x1="599.00" y1="272.90" x2="599.00" y2="401.07" stroke="#000" stroke-width="1.9" />
<line x1="594.20" y1="400.20" x2="685.00" y2="400.20" stroke="#000" stroke-width="1.9" />
<line x1="594.20" y1="272.90" x2="599.00" y2="272.90" stroke="#000" stroke-width="1.9" />
<text x="591.50" y="276.80" font-size="11.2" text-anchor="end" >100</text>
<line x1="594.20" y1="336.10" x2="599.00" y2="336.10" stroke="#000" stroke-width="1.9" />
<text x="591.50" y="340.00" font-size="11.2" text-anchor="end" >10</text>
<line x1="594.20" y1="400.20" x2="599.00" y2="400.20" stroke="#000" stroke-width="1.9" />
<text x="591.50" y="404.10" font-size="11.2" text-anchor="end" >1</text>
<line x1="623.00" y1="400.20" x2="623.00" y2="405.70" stroke="#000" stroke-width="1.9" />
<line x1="660.00" y1="400.20" x2="660.00" y2="405.70" stroke="#000" stroke-width="1.9" />
<text x="627.00" y="268.30" font-size="11.2" text-anchor="middle" >13.9</text>
<text x="657.80" y="268.30" font-size="11.2" text-anchor="middle" >28.8</text>
<text x="640.00" y="284.80" font-size="10.6" text-anchor="middle" >p&lt;0.0001</text>
<line x1="621.70" y1="287.00" x2="659.40" y2="287.00" stroke="#000" stroke-width="1.4" />
<text transform="translate(551.2,338.4) rotate(-90)" font-size="11.5" text-anchor="middle" xml:space="preserve"><tspan font-style="italic">bla</tspan><tspan dy="3.3" font-size="10.2">SHV-5</tspan><tspan dy="-3.3">  fold change</tspan></text>
<text transform="translate(563.5,337) rotate(-90)" font-size="11.5" text-anchor="middle" xml:space="preserve">relative to no drug (2 <tspan dy="-2.8" font-size="9.9">-ΔΔCT</tspan><tspan dy="2.8">)</tspan></text>
<path d="M623.3,309.2 C621,310 616,314 613.5,318 C611.5,321.5 611.5,327 612.8,330 C614.5,333.5 617.5,335.5 619,337.5 C620.8,340 621.8,344 622.4,346.4 C622.7,349 623,351 623.3,351 C623.8,351 624.5,349 625,346.4 C625.8,343.5 626.8,341.5 628.2,340.4 C630.8,337 633.8,334.5 634.2,332 C634.8,328 634.8,324.5 634.4,322.5 C633.5,319 632,317 630.5,314.9 C628,312 625.8,310.2 623.3,309.2 Z" fill="#d2d2d2" stroke="#000" stroke-width="2.9"/>
<line x1="614.00" y1="318.40" x2="632.00" y2="318.40" stroke="#555" stroke-width="1.0" />
<line x1="612.50" y1="326.00" x2="634.50" y2="326.00" stroke="#000" stroke-width="1.2" />
<line x1="614.00" y1="333.00" x2="633.00" y2="333.00" stroke="#555" stroke-width="1.0" />
<circle cx="623.30" cy="309.50" r="2.0" fill="#000"/>
<circle cx="619.50" cy="312.50" r="2.0" fill="#000"/>
<circle cx="614.00" cy="317.50" r="2.0" fill="#000"/>
<circle cx="612.00" cy="323.50" r="2.0" fill="#000"/>
<circle cx="613.00" cy="330.00" r="2.0" fill="#000"/>
<circle cx="618.50" cy="337.00" r="2.0" fill="#000"/>
<circle cx="622.40" cy="346.00" r="2.0" fill="#000"/>
<circle cx="623.30" cy="350.50" r="2.0" fill="#000"/>
<circle cx="625.30" cy="346.00" r="2.0" fill="#000"/>
<circle cx="628.20" cy="340.00" r="2.0" fill="#000"/>
<circle cx="631.50" cy="336.50" r="2.0" fill="#000"/>
<circle cx="634.00" cy="332.50" r="2.0" fill="#000"/>
<circle cx="634.60" cy="322.50" r="2.0" fill="#000"/>
<circle cx="630.50" cy="315.00" r="2.0" fill="#000"/>
<circle cx="620.00" cy="326.00" r="2.0" fill="#000"/>
<circle cx="620.00" cy="332.20" r="2.0" fill="#000"/>
<circle cx="626.80" cy="332.20" r="2.0" fill="#000"/>
<circle cx="627.00" cy="317.20" r="2.0" fill="#000"/>
<circle cx="623.00" cy="313.50" r="2.0" fill="#000"/>
<circle cx="616.00" cy="328.00" r="2.0" fill="#000"/>
<circle cx="631.00" cy="327.00" r="2.0" fill="#000"/>
<path d="M656.6,291.2 C654,291.5 652.8,292 652.2,293 C650.5,295 649.5,298 649.4,301.6 C649,304 648.5,306 648.8,308 C650,310 652,312 653.6,313.2 C655,315 655.5,316 655.5,317.2 C655,319 653.8,320.5 653.6,322.4 C653.7,325 654.6,327 656,327.6 C657.5,328.3 661,328.3 662.8,327.6 C664.8,326.5 665.8,324 665.8,322.4 C665.8,320 665.2,318 665.2,317.2 C665.3,315.5 665.8,314 666.8,313 C669,311 671.8,308 671.9,305.8 C672,303 671.6,300 670.9,298.5 C670.3,295.5 670,293.8 669.9,293.5 C668,291.5 660,291.2 656.6,291.2 Z" fill="#d2d2d2" stroke="#a50f0f" stroke-width="2.5"/>
<line x1="650.50" y1="298.00" x2="670.00" y2="298.00" stroke="#444" stroke-width="1.0" />
<line x1="650.00" y1="305.80" x2="671.00" y2="305.80" stroke="#000" stroke-width="1.2" />
<line x1="656.00" y1="313.60" x2="664.00" y2="313.60" stroke="#000" stroke-width="1.0" />
<polygon points="656.60,293.63 653.85,298.58 659.35,298.58" fill="#a50f0f" />
<polygon points="663.30,293.63 660.55,298.58 666.05,298.58" fill="#a50f0f" />
<polygon points="656.60,305.03 653.85,309.98 659.35,309.98" fill="#a50f0f" />
<polygon points="663.30,304.03 660.55,308.98 666.05,308.98" fill="#a50f0f" />
<polygon points="658.60,318.63 655.85,323.58 661.35,323.58" fill="#a50f0f" />
<polygon points="652.40,289.80 649.90,294.30 654.90,294.30" fill="#a50f0f" />
<polygon points="660.00,288.80 657.50,293.30 662.50,293.30" fill="#a50f0f" />
<polygon points="669.80,290.80 667.30,295.30 672.30,295.30" fill="#a50f0f" />
<polygon points="649.20,298.80 646.70,303.30 651.70,303.30" fill="#a50f0f" />
<polygon points="672.80,297.30 670.30,301.80 675.30,301.80" fill="#a50f0f" />
<polygon points="648.50,305.30 646.00,309.80 651.00,309.80" fill="#a50f0f" />
<polygon points="671.50,304.30 669.00,308.80 674.00,308.80" fill="#a50f0f" />
<polygon points="667.20,310.30 664.70,314.80 669.70,314.80" fill="#a50f0f" />
<polygon points="653.00,310.50 650.50,315.00 655.50,315.00" fill="#a50f0f" />
<polygon points="653.30,320.30 650.80,324.80 655.80,324.80" fill="#a50f0f" />
<polygon points="666.00,320.30 663.50,324.80 668.50,324.80" fill="#a50f0f" />
<polygon points="657.00,325.30 654.50,329.80 659.50,329.80" fill="#a50f0f" />
<polygon points="662.50,325.30 660.00,329.80 665.00,329.80" fill="#a50f0f" />
<text transform="translate(551.5,460.5) rotate(-30)" font-size="11">RS <tspan font-style="italic">bla</tspan><tspan dy="2.8" font-size="10.3">SHV-5</tspan><tspan dy="-2.8" xml:space="preserve"> (WT)</tspan></text>
<text transform="translate(603.5,457.5) rotate(-30)" font-size="11">RS <tspan font-style="italic">bla</tspan><tspan dy="3.2" font-size="10" xml:space="preserve"> SHV-5 M69I</tspan></text>
</svg></body></html>
